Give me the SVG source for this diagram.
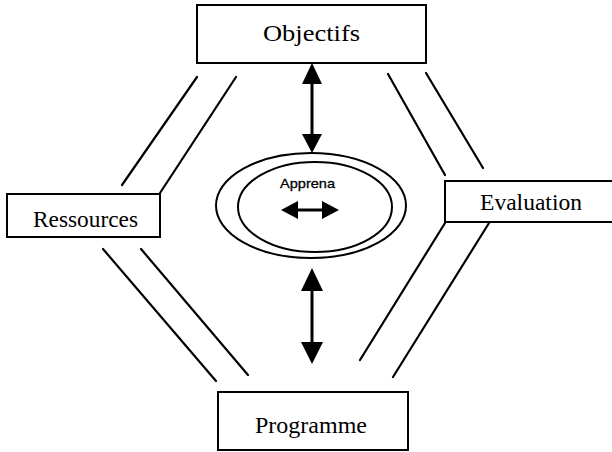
<svg xmlns="http://www.w3.org/2000/svg" width="612" height="452" viewBox="0 0 612 452">
<style>
.box{fill:#fff;stroke:#000;stroke-width:2}
.lbl{font-family:"Liberation Serif","Times New Roman",serif;font-size:23px;fill:#000}
.ln{stroke:#000;stroke-width:2.2;fill:none;stroke-linecap:round}
.shaft{stroke:#000;stroke-width:3;fill:none}
.head{fill:#000}
.ell{fill:none;stroke:#000;stroke-width:2}
</style>
<rect width="612" height="452" fill="#fff"/>
<g id="connectors">
<line class="ln" x1="197" y1="77" x2="122" y2="185"/>
<line class="ln" x1="236" y1="77" x2="160" y2="193"/>
<line class="ln" x1="388" y1="74" x2="445" y2="175"/>
<line class="ln" x1="426" y1="73" x2="483" y2="168"/>
<line class="ln" x1="103" y1="249" x2="216" y2="381"/>
<line class="ln" x1="141" y1="249" x2="248" y2="375"/>
<line class="ln" x1="445" y1="223" x2="360" y2="360"/>
<line class="ln" x1="489" y1="223" x2="393" y2="377"/>
<line class="shaft" x1="312" y1="80" x2="312" y2="138"/>
<polygon class="head" points="312,63 302,84 322,84"/>
<polygon class="head" points="312,153 302,134 322,134"/>
<line class="shaft" x1="312" y1="286" x2="312" y2="346"/>
<polygon class="head" points="312,268 301,291 323,291"/>
<polygon class="head" points="312,364 301,342 323,342"/>
</g>
<g id="objectifs">
<rect class="box" x="197" y="5" width="229" height="58"/>
<text class="lbl" x="263" y="41" textLength="97" lengthAdjust="spacingAndGlyphs">Objectifs</text>
</g>
<g id="ressources">
<rect class="box" x="7" y="194" width="153" height="43"/>
<text class="lbl" x="33" y="227" textLength="105" lengthAdjust="spacingAndGlyphs">Ressources</text>
</g>
<g id="evaluation">
<rect class="box" x="445" y="181" width="172" height="41"/>
<text class="lbl" x="480" y="210" textLength="102" lengthAdjust="spacingAndGlyphs">Evaluation</text>
</g>
<g id="programme">
<rect class="box" x="218" y="392" width="190" height="58"/>
<text class="lbl" x="255" y="433" textLength="112" lengthAdjust="spacingAndGlyphs">Programme</text>
</g>
<g id="apprena">
<ellipse class="ell" cx="311" cy="205.5" rx="95" ry="52.5"/>
<ellipse class="ell" cx="315" cy="207" rx="77" ry="45"/>
<text x="280" y="188" font-family="Liberation Sans, Arial, sans-serif" font-size="13" textLength="55" lengthAdjust="spacingAndGlyphs" stroke="#000" stroke-width="0.3">Apprena</text>
<line class="shaft" x1="294" y1="210" x2="326" y2="210"/>
<polygon class="head" points="281,210 298,201 298,219"/>
<polygon class="head" points="339,210 322,201 322,219"/>
</g>
</svg>
